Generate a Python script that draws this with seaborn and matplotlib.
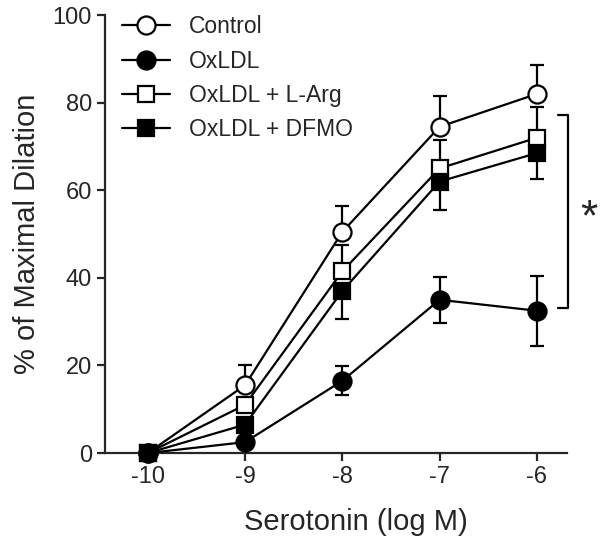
import matplotlib
matplotlib.use("Agg")
import matplotlib.pyplot as plt
import seaborn as sns
import pandas as pd

# serotonin dose (log M)
dose = [-10, -9, -8, -7, -6]

control_mean = [0, 15.5, 50.5, 74.5, 82]
control_err = [0, 4.5, 6, 7, 6.5]       # upper bars only
oxldl_mean = [0, 2.5, 16.5, 35, 32.5]
oxldl_err = [0, 0, 3.3, 5.3, 8]          # both sides
larg_mean = [0, 11, 41.5, 65, 72]
larg_err = [0, 0, 6, 6.5, 7]             # upper bars only
dfmo_mean = [0, 6.5, 37, 62, 68.5]
dfmo_err = [0, 0, 6.5, 6.5, 6]           # lower bars only

sns.set_style("ticks")
plt.rcParams['font.family'] = ['Liberation Sans', 'DejaVu Sans']
plt.rcParams['axes.unicode_minus'] = False

fig = plt.figure(figsize=(6, 5.4), dpi=100)
ax = fig.add_axes([0.175, 0.161, 0.77, 0.811])

series = [
    ("Control", control_mean, control_err, "o", "white", "up"),
    ("OxLDL", oxldl_mean, oxldl_err, "o", "black", "both"),
    ("OxLDL + L-Arg", larg_mean, larg_err, "s", "white", "up"),
    ("OxLDL + DFMO", dfmo_mean, dfmo_err, "s", "black", "down"),
]

# error bars first so markers sit on top
for name, mean, err, mk, fc, side in series:
    lo = [e if side in ("both", "down") else 0 for e in err]
    hi = [e if side in ("both", "up") else 0 for e in err]
    ax.errorbar(dose, mean, yerr=[lo, hi], fmt="none", ecolor="black",
                elinewidth=1.6, capsize=5, capthick=1.6, zorder=2, clip_on=False)

for i, (name, mean, err, mk, fc, side) in enumerate(series):
    df = pd.DataFrame({"dose": dose, "value": mean})
    sns.lineplot(data=df, x="dose", y="value", ax=ax, color="black", lw=1.6,
                 marker=mk, markersize=13 if mk == "o" else 12,
                 markerfacecolor=fc, markeredgecolor="black", markeredgewidth=1.6,
                 label=name, zorder=3 + i, clip_on=False)

ax.set_xlim(-10.44, -5.69)
ax.set_ylim(0, 100)
ax.set_xticks(dose)
ax.set_yticks([0, 20, 40, 60, 80, 100])
ax.set_xlabel("Serotonin (log M)", fontsize=21)
ax.set_ylabel("% of Maximal Dilation", fontsize=21, labelpad=8)
ax.xaxis.set_label_coords(0.543, -0.125)
ax.tick_params(labelsize=17, width=1.6, length=6, direction="out")
for s in ["top", "right"]:
    ax.spines[s].set_visible(False)
for s in ["left", "bottom"]:
    ax.spines[s].set_linewidth(1.6)

# significance bracket
bx = -5.68
ax.plot([bx - 0.1, bx, bx, bx - 0.1], [77.2, 77.2, 33.1, 33.1], color="black",
        lw=1.6, clip_on=False)
ax.text(bx + 0.22, 53.5, "*", fontsize=32, ha="center", va="center")

ax.legend(loc="upper left", bbox_to_anchor=(0.037, 1.0), frameon=False,
          borderaxespad=0, borderpad=0,
          fontsize=16.5, handlelength=2.1, labelspacing=0.5, handletextpad=0.8)

fig.savefig("out.png", dpi=100)
